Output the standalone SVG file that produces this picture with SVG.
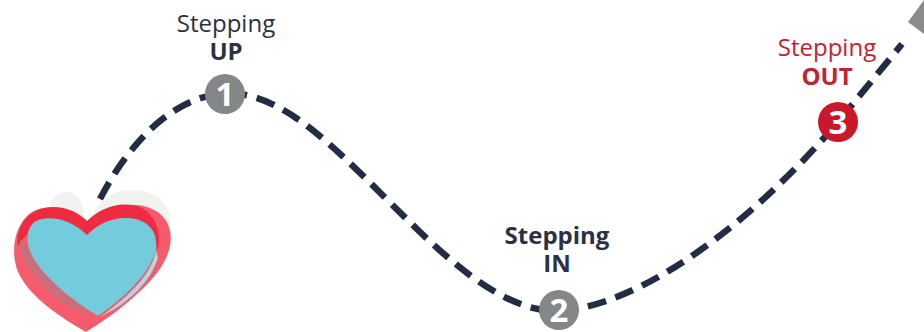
<svg xmlns="http://www.w3.org/2000/svg" width="924" height="332" viewBox="0 0 924 332">
<style>
.t{font-family:"Open Sans","Liberation Sans",sans-serif;font-size:24px;text-anchor:middle}
.b{font-weight:700}
.d{fill:#2b3145}.r{fill:#c7212f}
.n{font-family:"Open Sans","Liberation Sans",sans-serif;font-size:33px;font-weight:700;fill:#fff;text-anchor:middle}
.c{fill:none;stroke:#222c44;stroke-width:6.5;stroke-dasharray:19 10}
</style>
<rect width="924" height="332" fill="#fff"/>
<g id="connectors">
<path class="c" d="M100 199C128 145 170 98 225 93C290 92 345 160 420 232C470 280 515 312 559 311C640 306 750 225 838 122L902 44"/>
<polygon points="908,22 924,0 924,34" fill="#8a8b8d"/>
</g>
<g id="heart">
<ellipse cx="66" cy="215" rx="18" ry="23" fill="#f0f3ef"/>
<ellipse cx="132" cy="218" rx="38" ry="28" fill="#f0f3ef"/>
<path d="M88 224C72 208 48 203 32 212C14 224 10 252 18 272C30 298 62 318 86 332C112 316 150 288 164 262C176 240 172 218 152 209C130 199 104 208 88 224Z" fill="#f45b6c"/>
<path d="M87 221C74 208 52 202 34 212C20 220 16 236 18 246C32 224 52 218 64 224L87 236L110 222C130 214 148 222 158 250C162 230 154 214 140 207C120 200 100 208 87 221Z" fill="#ef2b42"/>
<path d="M20 240C18 262 40 282 60 302L90 316L60 270Z" fill="#c0737f" opacity=".85"/>
<path d="M87 235C74 222 56 216 42 219C30 221 26 232 28 244C32 268 68 298 98 316C124 298 152 272 156 248C158 230 146 218 126 218C108 218 96 226 87 235Z" fill="#74cbdb"/>
<path d="M156 250C152 276 124 300 100 317C124 306 150 284 158 258Z" fill="#b8d3dc"/>
</g>
<g id="step1">
<circle cx="225" cy="94" r="20" fill="#858688"/>
<text class="n" x="225" y="106">1</text>
<text class="t d" x="226" y="32">Stepping</text>
<text class="t b d" x="226" y="60">UP</text>
</g>
<g id="step2">
<circle cx="559" cy="310" r="20" fill="#858688"/>
<text class="n" x="559" y="322">2</text>
<text class="t b d" x="557" y="244">Stepping</text>
<text class="t b d" x="557" y="272">IN</text>
</g>
<g id="step3">
<circle cx="838" cy="122" r="20" fill="#c9182b"/>
<text class="n" x="838" y="134">3</text>
<text class="t r" x="827" y="56">Stepping</text>
<text class="t b r" x="827" y="85">OUT</text>
</g>
</svg>
